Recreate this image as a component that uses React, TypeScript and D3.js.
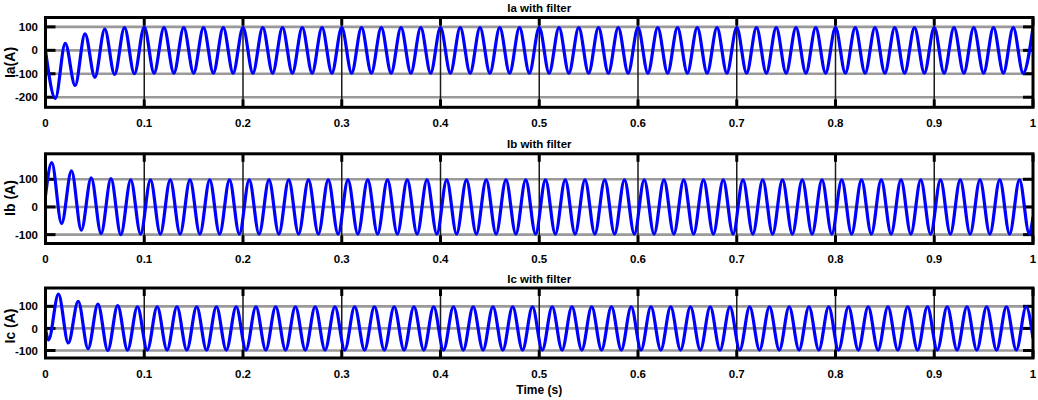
import React from "react";
import * as d3 from "d3";

const W = 1038;
const H = 400;

// x axis (time, s)
const X_TICKS = [0, 0.1, 0.2, 0.3, 0.4, 0.5, 0.6, 0.7, 0.8, 0.9, 1];
const X_TICK_LABELS = ["0", "0.1", "0.2", "0.3", "0.4", "0.5", "0.6", "0.7", "0.8", "0.9", "1"];
const HALF_PERIOD = 0.01; // 50 Hz

// Panel titles / labels
const TITLES = ["Ia with filter", "Ib with filter", "Ic with filter"];
const Y_LABELS = ["Ia(A)", "Ib (A)", "Ic (A)"];
const Y_TICKS_A = [-200, -100, 0, 100];
const Y_TICKS_B = [-100, 0, 100];
const Y_TICKS_C = [-100, 0, 100];
const Y_DOMAIN_A = [-243, 140];
const Y_DOMAIN_B = [-132, 192];
const Y_DOMAIN_C = [-134, 183];

// Ia: value at t=0, time of first extremum, transient extrema, steady amplitude, value at t=1
const IA_START = 0;
const IA_FIRST_T = 0.01;
const IA_TRANSIENT = [-205, 30, -150, 70, -115, 90, -103, 97, -100, 99];
const IA_STEADY = 97;
const IA_END = 97;

// Ib
const IB_START = 40;
const IB_FIRST_T = 0.0063;
const IB_TRANSIENT = [160, -60, 130, -84, 105, -96, 102, -100];
const IB_STEADY = 98;
const IB_END = -35;

// Ic
const IC_START = 0;
const IC_FIRST_T = 0.0031;
const IC_TRANSIENT = [-52, 155, -66, 123, -92, 110, -100, 103];
const IC_STEADY = 98;
const IC_END = -45;

type Pt = [number, number];

function buildSeries(start: number, firstT: number, transient: number[], steady: number, end: number): Pt[] {
  const pts: Pt[] = [[0, start]];
  const sign0 = Math.sign(transient[0]);
  let k = 0;
  while (firstT + k * HALF_PERIOD <= 1 + 1e-9) {
    const t = firstT + k * HALF_PERIOD;
    const sgn = k % 2 === 0 ? sign0 : -sign0;
    const v = k < transient.length ? transient[k] : sgn * steady;
    pts.push([t, v]);
    k++;
  }
  if (pts[pts.length - 1][0] < 1 - 1e-6) pts.push([1, end]);
  return pts;
}

const PANELS = [
  { top: 17.5, bottom: 107.3, domain: Y_DOMAIN_A, ticks: Y_TICKS_A, data: buildSeries(IA_START, IA_FIRST_T, IA_TRANSIENT, IA_STEADY, IA_END), labelY: 62.5 },
  { top: 153.8, bottom: 243.5, domain: Y_DOMAIN_B, ticks: Y_TICKS_B, data: buildSeries(IB_START, IB_FIRST_T, IB_TRANSIENT, IB_STEADY, IB_END), labelY: 198 },
  { top: 288, bottom: 358, domain: Y_DOMAIN_C, ticks: Y_TICKS_C, data: buildSeries(IC_START, IC_FIRST_T, IC_TRANSIENT, IC_STEADY, IC_END), labelY: 326 },
];

const LEFT = 45.5;
const RIGHT = 1033;
const FONT = "Arial, 'Liberation Sans', Helvetica, sans-serif";

function Panel({ p, i }: { p: (typeof PANELS)[number]; i: number }) {
  const x = d3.scaleLinear().domain([0, 1]).range([LEFT, RIGHT]);
  const y = d3.scaleLinear().domain(p.domain).range([p.bottom, p.top]);
  const line = d3
    .line<Pt>()
    .x((d) => x(d[0]))
    .y((d) => y(d[1]))
    .curve(d3.curveMonotoneX);
  const clipId = `clip${i}`;
  return (
    <g>
      <defs>
        <clipPath id={clipId}>
          <rect x={LEFT} y={p.top} width={RIGHT - LEFT} height={p.bottom - p.top} />
        </clipPath>
      </defs>
      <rect x={LEFT} y={p.top} width={RIGHT - LEFT} height={p.bottom - p.top} fill="#fff" />
      {/* horizontal grid */}
      {p.ticks.map((v) => (
        <line key={"hg" + v} x1={LEFT} x2={RIGHT} y1={y(v)} y2={y(v)} stroke="#9a9a9a" strokeWidth={2.6} />
      ))}
      {/* vertical grid */}
      {X_TICKS.slice(1, -1).map((t) => (
        <line key={"vg" + t} x1={x(t)} x2={x(t)} y1={p.top} y2={p.bottom} stroke="#1a1a1a" strokeWidth={1.5} />
      ))}
      {/* x tick marks */}
      {X_TICKS.map((t) => (
        <g key={"xt" + t}>
          <line x1={x(t)} x2={x(t)} y1={p.top} y2={p.top + 8} stroke="#000" strokeWidth={3} />
          <line x1={x(t)} x2={x(t)} y1={p.bottom} y2={p.bottom - 8} stroke="#000" strokeWidth={3} />
        </g>
      ))}
      {/* y tick marks */}
      {p.ticks.map((v) => (
        <g key={"yt" + v}>
          <line x1={LEFT} x2={LEFT + 10} y1={y(v)} y2={y(v)} stroke="#000" strokeWidth={3} />
          <line x1={RIGHT} x2={RIGHT - 10} y1={y(v)} y2={y(v)} stroke="#000" strokeWidth={3} />
        </g>
      ))}
      <path d={line(p.data) || ""} fill="none" stroke="#0000ff" strokeWidth={3.2} clipPath={`url(#${clipId})`} />
      <rect x={LEFT} y={p.top} width={RIGHT - LEFT} height={p.bottom - p.top} fill="none" stroke="#000" strokeWidth={3} />
      {/* labels */}
      {p.ticks.map((v) => (
        <text key={"yl" + v} x={38} y={y(v)} dy="0.36em" textAnchor="end" fontSize={11.5} fontWeight="bold" fontFamily={FONT}>
          {v}
        </text>
      ))}
      {X_TICKS.map((t, j) => (
        <text key={"xl" + t} x={x(t)} y={p.bottom + 19.5} textAnchor="middle" fontSize={11.5} fontWeight="bold" fontFamily={FONT}>
          {X_TICK_LABELS[j]}
        </text>
      ))}
      <text x={(LEFT + RIGHT) / 2} y={p.top - 5.5} textAnchor="middle" fontSize={11.5} fontWeight="bold" fontFamily={FONT}>
        {TITLES[i]}
      </text>
      <text
        transform={`translate(14.5,${p.labelY}) rotate(-90)`}
        textAnchor="middle"
        fontSize={14}
        fontWeight="bold"
        fontFamily={FONT}
      >
        {Y_LABELS[i]}
      </text>
    </g>
  );
}

export default function App() {
  return (
    <svg
      width={W}
      height={H}
      viewBox={`0 0 ${W} ${H}`}
      style={{ position: "absolute", left: 0, top: 0, display: "block", background: "#fff" }}
    >
      <rect x={0} y={0} width={W} height={H} fill="#fff" />
      {PANELS.map((p, i) => (
        <Panel key={i} p={p} i={i} />
      ))}
      <text x={(LEFT + RIGHT) / 2} y={394} textAnchor="middle" fontSize={12} fontWeight="bold" fontFamily={FONT}>
        Time (s)
      </text>
    </svg>
  );
}
